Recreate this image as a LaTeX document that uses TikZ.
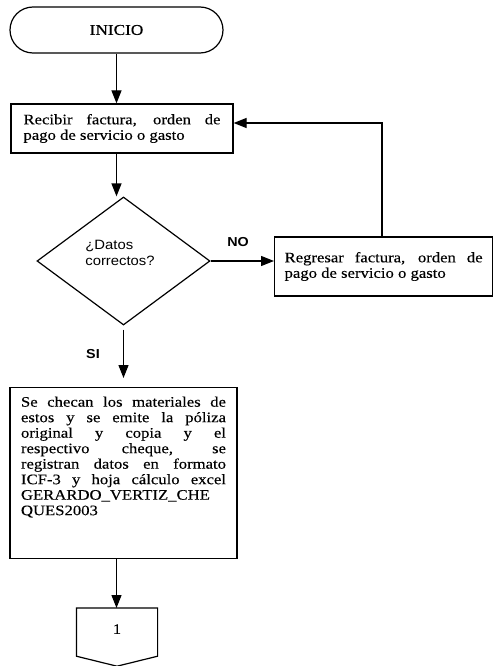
\documentclass[tikz,border=0pt]{standalone}
\usepackage{fontspec}
\setmainfont[FakeStretch=1.15,FakeBold=0.3]{Liberation Serif}
\newfontfamily\arialfont[FakeStretch=1.1]{Liberation Sans}
\usetikzlibrary{shapes.geometric,arrows.meta}
\begin{document}
\begin{tikzpicture}[x=1pt,y=-1pt,line width=1.2pt,
  flecha/.style={-{Triangle[length=13pt,width=10pt]}},
  caja/.style={draw,font=\fontsize{14.5}{15.5}\selectfont},
  etiqueta/.style={font=\arialfont\bfseries\fontsize{13}{15}\selectfont}]
\useasboundingbox (0,0) rectangle (493,666);
\node (inicio) [draw,rounded corners=23pt,minimum width=213pt,minimum height=46pt,font=\fontsize{15}{16}\selectfont] at (116.5,30) {INICIO};
\node (recibir) [caja,align=justify,text width=197pt,inner xsep=12.5pt,minimum height=49pt] at (122,128.5) {Recibir factura, orden de\linebreak pago de servicio o gasto};
\node (datos) [draw,diamond,minimum width=173pt,minimum height=128pt,inner sep=0pt] at (123.5,261) {};
\node (pregunta) [align=left,font=\arialfont\fontsize{13.5}{16.5}\selectfont] at (120,253) {¿Datos\\correctos?};
\node (regresar) [caja,align=justify,text width=198pt,inner xsep=10pt,minimum height=59pt,anchor=west] at (274,266.5) {Regresar factura, orden de\linebreak pago de servicio o gasto};
\node (checar) [caja,inner xsep=11pt,inner ysep=9pt,anchor=north] at (123.5,387) {\parbox[t][153pt][t]{205pt}{Se checan los materiales de\linebreak estos y se emite la póliza\linebreak original y copia y el\linebreak respectivo cheque, se\linebreak registran datos en formato\linebreak ICF-3 y hoja cálculo excel\linebreak GERARDO\_VERTIZ\_CHE\\ QUES2003}};
\node (conector) [minimum width=80pt,minimum height=47pt,anchor=north,font=\fontsize{14.5}{16}\selectfont] at (117,608) {\raisebox{6pt}{1}};
\draw (conector.north west) -- (conector.north east) -- (conector.south east) -- ([yshift=-10pt]conector.south) -- (conector.south west) -- cycle;
\coordinate (giro) at (382,123);
\draw[flecha] (inicio) -- (inicio |- recibir.north);
\draw[flecha] (inicio |- recibir.south) -- (inicio |- datos.north);
\draw[flecha] (datos.east) -- (regresar.west |- datos.east);
\node (no) [etiqueta] at (238,242) {NO};
\draw[flecha] (regresar.north -| giro) -- (giro) -- (recibir.east |- giro);
\draw[flecha,shorten <=4pt,shorten >=9pt] (datos.south) -- (datos.south |- checar.north);
\node (si) [etiqueta] at (93,354) {SI};
\draw[flecha] (inicio |- checar.south) -- (inicio |- conector.north);
\end{tikzpicture}
\end{document}
